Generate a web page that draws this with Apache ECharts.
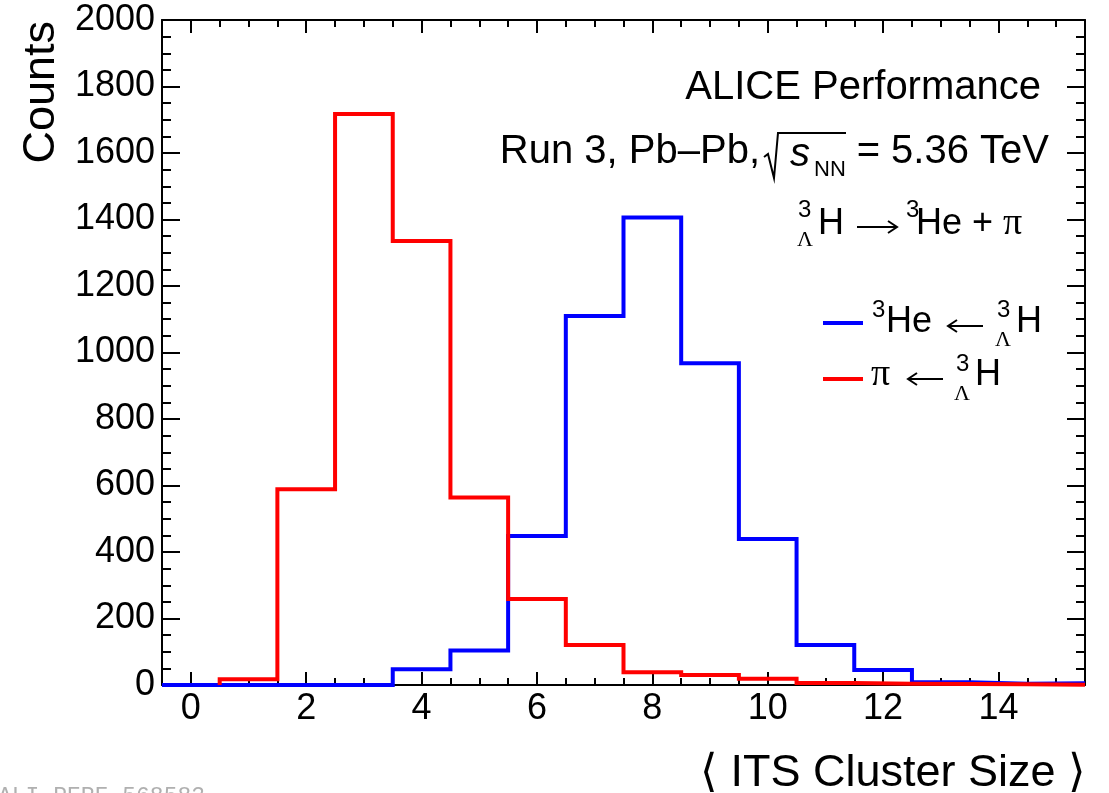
<!DOCTYPE html>
<html>
<head>
<meta charset="utf-8">
<script src="https://cdn.jsdelivr.net/npm/echarts@6/dist/echarts.min.js"></script>
<style>
  html, body { margin: 0; padding: 0; background: #fff; }
  #main { width: 1109px; height: 793px; }
</style>
</head>
<body>
<div id="main"></div>
<script>
// bin centres (width 1) and counts
var heBins = [0, 1, 2, 3, 4, 5, 6, 7, 8, 9, 10, 11, 12, 13, 14, 15];
var heCounts = [0, 0, 0, 0, 47, 104, 448, 1110, 1406, 968, 439, 120, 45, 8, 4, 5];
var piBins = [1, 2, 3, 4, 5, 6, 7, 8, 9, 10, 11, 12, 13, 14, 15];
var piCounts = [17, 589, 1717, 1335, 564, 259, 120, 38, 30, 19, 6, 4, 3, 2, 1];

var xMajorTicks = [0, 2, 4, 6, 8, 10, 12, 14];
var xMinorTicks = [-0.5, 0, 0.5, 1, 1.5, 2, 2.5, 3, 3.5, 4, 4.5, 5, 5.5, 6, 6.5, 7, 7.5, 8, 8.5, 9, 9.5, 10, 10.5, 11, 11.5, 12, 12.5, 13, 13.5, 14, 14.5, 15, 15.5];

var SANS = '"Liberation Sans", Arial, Helvetica, sans-serif';
var SERIF = '"Liberation Serif", "Times New Roman", serif';

// turn bins into the outline of a ROOT style histogram
function stepPoints(bins, counts) {
  var pts = [[bins[0] - 0.5, 0]];
  for (var i = 0; i < bins.length; i++) {
    pts.push([bins[i] - 0.5, counts[i]]);
    pts.push([bins[i] + 0.5, counts[i]]);
  }
  return pts;
}

function txt(str, x, y, size, align, family, style) {
  return {
    type: 'text', x: x, y: y, silent: true,
    style: {
      text: str, fill: '#000',
      font: (style || 'normal') + ' ' + size + 'px ' + (family || SANS),
      align: align || 'left', verticalAlign: 'middle',
      textAlign: align || 'left', textVerticalAlign: 'middle'
    }
  };
}

// thin long arrow like the one ROOT's latex draws
function arrow(x1, x2, y) {
  var d = x2 > x1 ? -1 : 1;
  return {
    type: 'group', silent: true,
    children: [
      { type: 'line', shape: { x1: x1, y1: y, x2: x2, y2: y }, style: { stroke: '#000', lineWidth: 2 } },
      { type: 'polyline', shape: { points: [[x2 + d * 9, y - 6], [x2, y], [x2 + d * 9, y + 6]] }, style: { stroke: '#000', lineWidth: 2, fill: null } }
    ]
  };
}

function xAxisCfg(pos, ticks, len, labels) {
  return {
    type: 'value', min: -0.5, max: 15.5, position: pos,
    axisLine: { show: len > 10, onZero: false, lineStyle: { color: '#000', width: 2 } },
    axisTick: { show: true, inside: true, length: len, customValues: ticks, lineStyle: { color: '#000', width: 2 } },
    axisLabel: labels ? { show: true, customValues: ticks, margin: 6, color: '#000', fontSize: 36, fontFamily: SANS } : { show: false },
    splitLine: { show: false }
  };
}

function yAxisCfg(pos, labels) {
  return {
    type: 'value', min: 0, max: 2000, interval: 200, position: pos,
    axisLine: { show: true, onZero: false, lineStyle: { color: '#000', width: 2 } },
    axisTick: { show: true, inside: true, length: 18, lineStyle: { color: '#000', width: 2 } },
    minorTick: { show: true, splitNumber: 4, length: 9, lineStyle: { color: '#000', width: 2 } },
    axisLabel: labels ? {
      show: true, margin: 7, color: '#000', fontSize: 36, fontFamily: SANS,
      formatter: function (v) { return String(v); }
    } : { show: false },
    splitLine: { show: false }
  };
}

var chart = echarts.init(document.getElementById('main'));

var option = {
  animation: false,
  backgroundColor: '#fff',
  grid: { left: 162, right: 24, top: 20, bottom: 108, containLabel: false },
  xAxis: [
    xAxisCfg('bottom', xMajorTicks, 13, true),
    xAxisCfg('bottom', xMinorTicks, 7, false),
    xAxisCfg('top', xMajorTicks, 13, false),
    xAxisCfg('top', xMinorTicks, 7, false)
  ],
  yAxis: [yAxisCfg('left', true), yAxisCfg('right', false)],
  series: [
    {
      name: 'he', type: 'line', xAxisIndex: 0, yAxisIndex: 0,
      data: stepPoints(heBins, heCounts),
      showSymbol: false, symbol: 'none', z: 3,
      lineStyle: { color: '#0000ff', width: 4, join: 'miter' }
    },
    {
      name: 'pi', type: 'line', xAxisIndex: 0, yAxisIndex: 0,
      data: stepPoints(piBins, piCounts),
      showSymbol: false, symbol: 'none', z: 4,
      lineStyle: { color: '#ff0000', width: 4, join: 'miter' }
    }
  ],
  graphic: [
    // axis titles
    {
      type: 'text', x: 42, y: 21, rotation: Math.PI / 2, silent: true,
      style: { text: 'Counts', fill: '#000', font: '45px ' + SANS, align: 'right', verticalAlign: 'middle', textAlign: 'right', textVerticalAlign: 'middle' }
    },
    txt('\u27e8 ITS Cluster Size \u27e9', 1086, 774, 45, 'right'),

    // header text
    txt('ALICE Performance', 1041, 88, 40, 'right'),
    txt('Run 3, Pb\u2013Pb,', 760, 152, 40, 'right'),
    { type: 'polyline', silent: true, shape: { points: [[764, 157], [768, 154], [774, 178], [778, 133], [846, 133]] }, style: { stroke: '#000', lineWidth: 2, fill: null } },
    txt('s', 790, 155, 40, 'left', SANS, 'italic'),
    txt('NN', 814, 170, 22),
    txt('= 5.36 TeV', 1049, 152, 40, 'right'),

    txt('3', 798, 210, 24),
    txt('\u039b', 797, 240, 22, 'left', SERIF),
    txt('H', 818, 224, 36),
    arrow(857, 897, 227),
    txt('3', 906, 210, 24),
    txt('He + ', 916, 224, 36),
    txt('\u03c0', 1003, 224, 38, 'left', SERIF),

    // legend
    { type: 'line', silent: true, shape: { x1: 823, y1: 323, x2: 863, y2: 323 }, style: { stroke: '#0000ff', lineWidth: 4 } },
    txt('3', 872, 310, 24),
    txt('He', 886, 322, 36),
    arrow(983, 948, 326),
    txt('3', 997, 310, 24),
    txt('\u039b', 995, 340, 22, 'left', SERIF),
    txt('H', 1016, 322, 36),

    { type: 'line', silent: true, shape: { x1: 823, y1: 379, x2: 863, y2: 379 }, style: { stroke: '#ff0000', lineWidth: 4 } },
    txt('\u03c0', 871, 375, 38, 'left', SERIF),
    arrow(943, 908, 379),
    txt('3', 956, 364, 24),
    txt('\u039b', 954, 394, 22, 'left', SERIF),
    txt('H', 975, 375, 36),

    // figure id watermark, mostly cut off at the bottom
    {
      type: 'text', x: -2, y: 797, silent: true,
      style: { text: 'ALI-PERF-568583', fill: '#b0b0b0', font: '23px "Liberation Mono", "DejaVu Sans Mono", monospace', align: 'left', verticalAlign: 'middle', textAlign: 'left', textVerticalAlign: 'middle' }
    }
  ]
};

chart.setOption(option);
</script>
</body>
</html>
